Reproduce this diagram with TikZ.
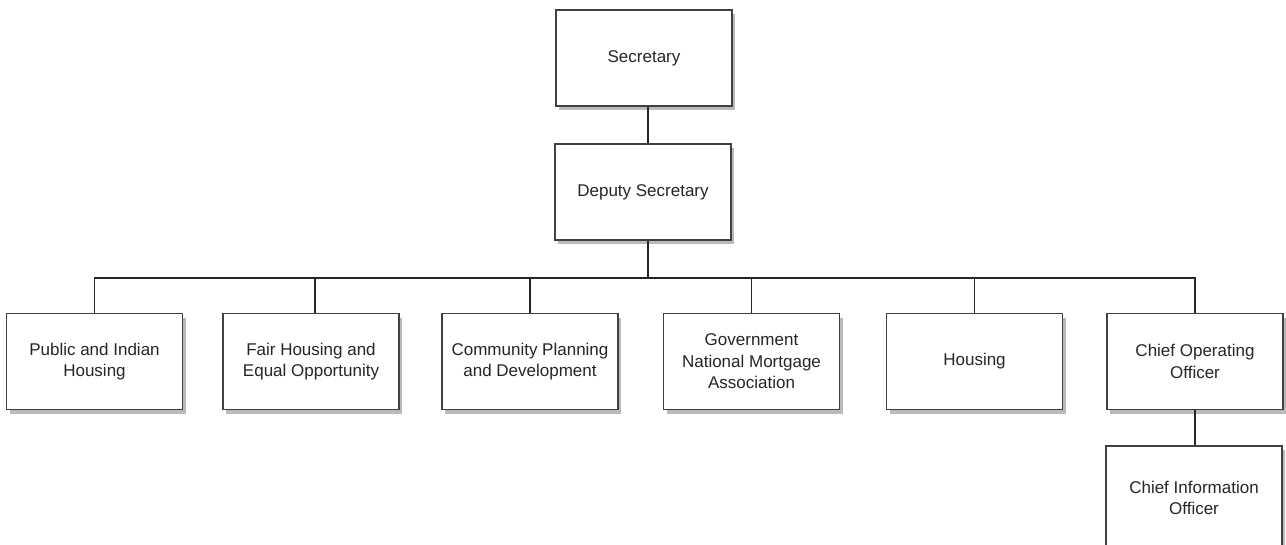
\documentclass[tikz,border=0pt]{standalone}
\usepackage{fontspec}
\setmainfont{Liberation Sans}
\usetikzlibrary{shadows}
\begin{document}
\begin{tikzpicture}[x=1pt,y=-1pt,
  box/.style={draw=black!75, line width=1.3pt, fill=white, minimum width=176pt, minimum height=96pt,
    align=center, font=\fontsize{17}{21.5}\selectfont, text=black!85,
    drop shadow={shadow xshift=3pt, shadow yshift=-4pt, fill=black!45, opacity=0.6}},
  conn/.style={draw=black!85, line width=1.6pt}]
\clip (0,0) rectangle (1286,544);
\fill[white] (0,0) rectangle (1286,544);
\node[box] (sec) at (644,58) {Secretary};
\node[box] (dep) at (643,192) {Deputy Secretary};
\node[box] (pih) at (94.5,361.5) {Public and Indian\\Housing};
\node[box] (fh) at (311,361.5) {Fair Housing and\\Equal Opportunity};
\node[box] (cpd) at (530,361.5) {Community Planning\\and Development};
\node[box] (gnma) at (751.5,361.5) {Government\\National Mortgage\\Association};
\node[box] (hou) at (974.5,361.5) {Housing};
\node[box] (coo) at (1195,361.5) {Chief Operating\\Officer};
\node[box, minimum height=104pt] (cio) at (1194,498) {Chief Information\\Officer};
\coordinate (bus) at (648,278);
\draw[conn] (sec.south -| bus) -- (dep.north -| bus);
\draw[conn] (dep.south -| bus) -- (bus);
\draw[conn] (pih.north) |- (bus) -| (coo.north);
\draw[conn] ([xshift=4pt]fh.north) -- ([xshift=4pt]fh.north |- bus);
\draw[conn] (cpd.north) -- (cpd.north |- bus);
\draw[conn] (gnma.north) -- (gnma.north |- bus);
\draw[conn] (hou.north) -- (hou.north |- bus);
\draw[conn] (coo.south) -- (coo.south |- cio.north);
\end{tikzpicture}
\end{document}
